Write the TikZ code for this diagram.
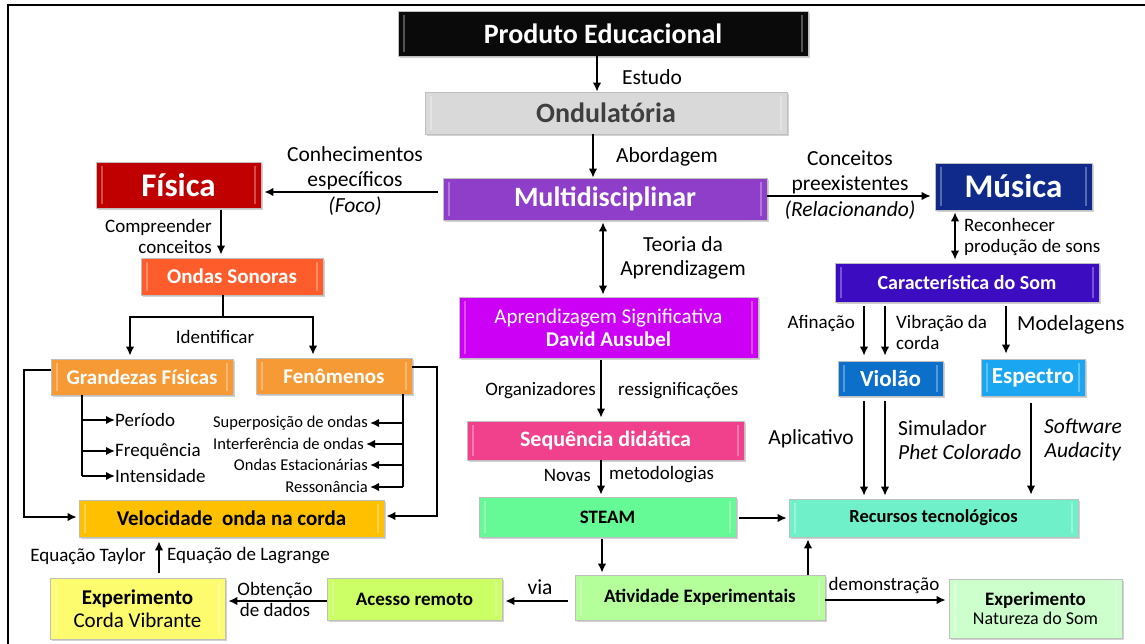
\documentclass[tikz,border=0pt]{standalone}
\usepackage{fontspec}
\setmainfont{Carlito}
\usetikzlibrary{arrows.meta,shadows,positioning}

\definecolor{prodcol}{HTML}{0A0A0A}
\definecolor{ondcol}{HTML}{D9D9D9}
\definecolor{ondtxt}{HTML}{3F3F3F}
\definecolor{multicol}{HTML}{8E3EC8}
\definecolor{fiscol}{HTML}{C00000}
\definecolor{muscol}{HTML}{0F2A8A}
\definecolor{caraccol}{HTML}{3C0CC0}
\definecolor{sonorascol}{HTML}{FF5C2B}
\definecolor{orangecol}{HTML}{F59A35}
\definecolor{veloccol}{HTML}{FFC000}
\definecolor{cordacol}{HTML}{FCFC6E}
\definecolor{acessocol}{HTML}{CCFF66}
\definecolor{aprendcol}{HTML}{CC00F5}
\definecolor{seqcol}{HTML}{F2418C}
\definecolor{steamcol}{HTML}{66FA96}
\definecolor{ativcol}{HTML}{B4FF9A}
\definecolor{reccol}{HTML}{6FF0C8}
\definecolor{violcol}{HTML}{0C6FC9}
\definecolor{speccol}{HTML}{1AA6F0}
\definecolor{natcol}{HTML}{CCFFCC}

\newcommand{\fsz}[1]{\fontsize{#1}{#1}\selectfont}

\tikzset{>={Latex[length=9pt,width=8.5pt]},
  bevel/.style={path picture={
    \draw[white,opacity=.3,line width=1.5pt]
      ([xshift=6pt,yshift=-4pt]path picture bounding box.north west) --
      ([xshift=6pt,yshift=4pt]path picture bounding box.south west);
    \draw[white,opacity=.3,line width=1.5pt]
      ([xshift=-6pt,yshift=-4pt]path picture bounding box.north east) --
      ([xshift=-6pt,yshift=4pt]path picture bounding box.south east);}},
  box/.style={rectangle, draw=black!25, line width=.6pt, inner sep=2pt, align=center,
    drop shadow={shadow xshift=2pt,shadow yshift=-2pt,opacity=.35}, bevel},
  conn/.style={line width=2.2pt},
  lbl/.style={inner sep=0pt, align=center, font=\fsz{19}},
  biglbl/.style={inner sep=0pt, align=center, font=\fsz{21.5}},
  smalllbl/.style={inner sep=0pt, font=\fsz{16.5}}
}

\begin{document}
\begin{tikzpicture}[x=1pt,y=-1pt]
\useasboundingbox (0,0) rectangle (1145,644);
\fill[white] (0,0) rectangle (1145,644);
\draw[line width=1.6pt] (8,644) -- (8,5) -- (1145,5);

% caixas
\node[box, fill=prodcol, text=white, font=\fsz{28}\bfseries, minimum width=410, minimum height=45] (prod) at (603,33.5) {Produto Educacional};
\node[box, fill=ondcol, text=ondtxt, font=\fsz{28}\bfseries, minimum width=362, minimum height=42] (ond) at (606,113) {Ondulatória};
\node[box, fill=multicol, text=white, font=\fsz{28}\bfseries, minimum width=324, minimum height=42] (multi) at (605,199) {Multidisciplinar};
\node[box, fill=fiscol, text=white, font=\fsz{33}\bfseries, minimum width=165, minimum height=46] (fis) at (178.5,185) {Física};
\node[box, fill=muscol, text=white, font=\fsz{33}\bfseries, minimum width=157, minimum height=47] (mus) at (1013.5,186.5) {Música};
\node[box, fill=caraccol, text=white, font=\fsz{20}\bfseries, minimum width=264, minimum height=39] (carac) at (967,282.5) {Característica do Som};
\node[box, fill=sonorascol, text=white, font=\fsz{21}\bfseries, minimum width=182, minimum height=37] (sonoras) at (232,276.5) {Ondas Sonoras};
\node[box, fill=orangecol, text=white, font=\fsz{21}\bfseries, minimum width=182, minimum height=36] (grand) at (142,377) {Grandezas Físicas};
\node[box, fill=orangecol, text=white, font=\fsz{21}\bfseries, minimum width=156, minimum height=36] (fen) at (334,376) {Fenômenos};
\node[box, fill=veloccol, font=\fsz{21}\bfseries, minimum width=305, minimum height=37] (veloc) at (231.5,518.5) {Velocidade\ \ onda na corda};
\node[box, fill=cordacol, font=\fsz{21}, minimum width=175, minimum height=61] (corda) at (137.5,608.5) {\textbf{Experimento}\\[2pt]Corda Vibrante};
\node[box, fill=acessocol, font=\fsz{19}\bfseries, minimum width=175, minimum height=42] (acesso) at (414.5,599) {Acesso remoto};
\node[box, fill=aprendcol, text=white, font=\fsz{21}, minimum width=299, minimum height=61] (aprend) at (608.5,327.5) {Aprendizagem Significativa\\[2pt]\textbf{David Ausubel}};
\node[box, fill=seqcol, text=white, font=\fsz{22}\bfseries, minimum width=277, minimum height=39] (seq) at (605.5,440.5) {Sequência didática};
\node[box, fill=steamcol, font=\fsz{19}\bfseries, minimum width=257, minimum height=40] (steam) at (607.5,517) {STEAM};
\node[box, fill=ativcol, font=\fsz{19}\bfseries, minimum width=250, minimum height=45] (ativ) at (700,597.5) {Atividade Experimentais};
\node[box, fill=reccol, font=\fsz{18.5}\bfseries, minimum width=289, minimum height=38] (rec) at (933.5,518) {Recursos tecnológicos};
\node[box, fill=violcol, text=white, font=\fsz{23}\bfseries, minimum width=105, minimum height=35] (viol) at (890.5,378.5) {Violão};
\node[box, fill=speccol, text=white, font=\fsz{23}\bfseries, minimum width=104, minimum height=37] (spec) at (1033,377.5) {Espectro};
\node[box, fill=natcol, minimum width=173, minimum height=59] (nat) at (1035.5,608.5) {\fsz{19}\bfseries Experimento\\[3pt]\fsz{18}Natureza do Som};

% ligacoes do centro
\draw[conn,->] (597,0 |- prod.south) -- (597,0 |- ond.north);
\node[biglbl] at (652,77) {Estudo};
\draw[conn,->] (593,0 |- ond.south) -- (593,0 |- multi.north);
\node[biglbl] at (667,157) {Abordagem};
\draw[conn,->,shorten <=5pt,shorten >=3pt] (multi.west |- 0,192) -- (fis.east |- 0,192);
\node[biglbl] at (355,181) {Conhecimentos\\[4pt]específicos\\[4pt]\textit{(Foco)}};
\draw[conn,->,shorten >=4pt] (multi.east |- 0,196) -- (mus.west |- 0,196);
\node[biglbl] at (850,185) {Conceitos\\[4pt]preexistentes\\[4pt]\textit{(Relacionando)}};
\draw[conn,<->,shorten <=2pt,shorten >=2pt] (603,0 |- multi.south) -- (603,0 |- aprend.north);
\node[biglbl] at (683,258) {Teoria da\\[3pt]Aprendizagem};
\draw[conn,->,shorten <=2pt,shorten >=3pt] (601,0 |- aprend.south) -- (601,0 |- seq.north);
\node[lbl, anchor=east] at (596,391) {Organizadores};
\node[lbl, anchor=west] at (618,391) {ressignificações};
\draw[conn,->,shorten >=2pt] (601,0 |- seq.south) -- (601,0 |- steam.north);
\node[lbl, anchor=east] at (591,475) {Novas};
\node[lbl, anchor=west] at (609,475) {metodologias};
\draw[conn,->,shorten <=2pt,shorten >=2pt] (602,0 |- steam.south) -- (602,0 |- ativ.north);
\draw[conn,->,shorten <=3pt,shorten >=2pt] (steam.east |- 0,518) -- (rec.west |- 0,518);
\draw[conn,->,shorten >=2pt] (808,0 |- ativ.north) -- (808,0 |- rec.south);
\draw[conn,->,shorten >=3pt] (ativ.east |- 0,600) -- (nat.west |- 0,600);
\node[lbl] at (884,585) {demonstração};
\draw[conn,->,shorten <=7pt,shorten >=3pt] (ativ.west |- 0,601) -- (acesso.east |- 0,601);
\node[biglbl] at (540,587) {via};
\draw[conn,->,shorten >=3pt] (acesso.west |- 0,601) -- (corda.east |- 0,601);
\node[lbl] at (275,599) {Obtenção\\[2pt]de dados};

% lado da musica
\draw[conn,<->,shorten <=2pt,shorten >=3pt] (955,0 |- mus.south) -- (955,0 |- carac.north);
\node[lbl, anchor=west, align=left] at (964,237) {Reconhecer\\[2pt]produção de sons};
\draw[conn,->,shorten <=4pt,shorten >=5pt] (864,0 |- carac.south) -- (864,0 |- viol.north);
\draw[conn,->,shorten <=4pt,shorten >=5pt] (885,0 |- carac.south) -- (885,0 |- viol.north);
\node[lbl, anchor=east] at (855,324) {Afinação};
\node[lbl, anchor=west, align=left] at (896,332) {Vibração da\\[2pt]corda};
\draw[conn,->,shorten <=4pt,shorten >=5pt] (1006,0 |- carac.south) -- (1006,0 |- spec.north);
\node[biglbl, anchor=west] at (1017,325) {Modelagens};
\draw[conn,->,shorten <=5pt,shorten >=3pt] (864,0 |- viol.south) -- (864,0 |- rec.north);
\draw[conn,->,shorten <=5pt,shorten >=3pt] (885,0 |- viol.south) -- (885,0 |- rec.north);
\node[biglbl, anchor=east] at (854,439) {Aplicativo};
\node[biglbl, anchor=west, align=left] at (898,440) {Simulador\\[3pt]\textit{Phet Colorado}};
\draw[conn,->,shorten <=7pt,shorten >=4pt] (1031,0 |- spec.south) -- (1031,0 |- rec.north);
\node[biglbl] at (1083,440) {\textit{Software}\\[3pt]\textit{Audacity}};

% lado da fisica
\draw[conn,->,shorten <=2pt,shorten >=3pt] (221,0 |- fis.south) -- (221,0 |- sonoras.north);
\node[lbl, anchor=east, align=right] at (212,236) {Compreender\\[2pt]conceitos};
\coordinate (split) at (223,317);
\draw[conn] (223,0 |- sonoras.south) -- (split);
\draw[conn,->,shorten >=3pt] (split) -| (130,0 |- grand.north);
\draw[conn,->,shorten >=3pt] (split) -| (313,0 |- fen.north);
\node[lbl] at (215,337) {Identificar};

\node[lbl, anchor=west] (periodo) at (115,420) {Período};
\node[lbl, anchor=west] (freq) at (115,451) {Frequência};
\node[lbl, anchor=west] (intens) at (115,476) {Intensidade};
\draw[conn] (82,0 |- grand.south) -- (82,0 |- intens.west);
\foreach \q in {periodo,freq,intens}
  \draw[conn,->] (82,0 |- \q.west) -- (\q.west);

\node[smalllbl, anchor=east] (superp) at (368,423) {Superposição de ondas};
\node[smalllbl, anchor=east] (interf) at (364,444) {Interferência de ondas};
\node[smalllbl, anchor=east] (estac) at (368,465) {Ondas Estacionárias};
\node[smalllbl, anchor=east] (resson) at (368,487) {Ressonância};
\draw[conn] (403,0 |- fen.south) -- (403,0 |- resson.east);
\foreach \q in {superp,interf,estac,resson}
  \draw[conn,->,shorten >=2pt] (403,0 |- \q.east) -- (\q.east);

\draw[conn,->,shorten >=2pt] (grand.west |- 0,370) -- (24,370) |- (veloc.west |- 0,517);
\draw[conn,->,shorten >=2pt] (fen.east |- 0,367) -- (437,367) |- (veloc.east |- 0,516);
\draw[conn,->,shorten <=5pt,shorten >=4pt] (159,0 |- corda.north) -- (159,0 |- veloc.south);
\node[lbl, anchor=east] at (146,556) {Equação Taylor};
\node[lbl, anchor=west] at (167,556) {Equação de Lagrange};
\end{tikzpicture}
\end{document}
